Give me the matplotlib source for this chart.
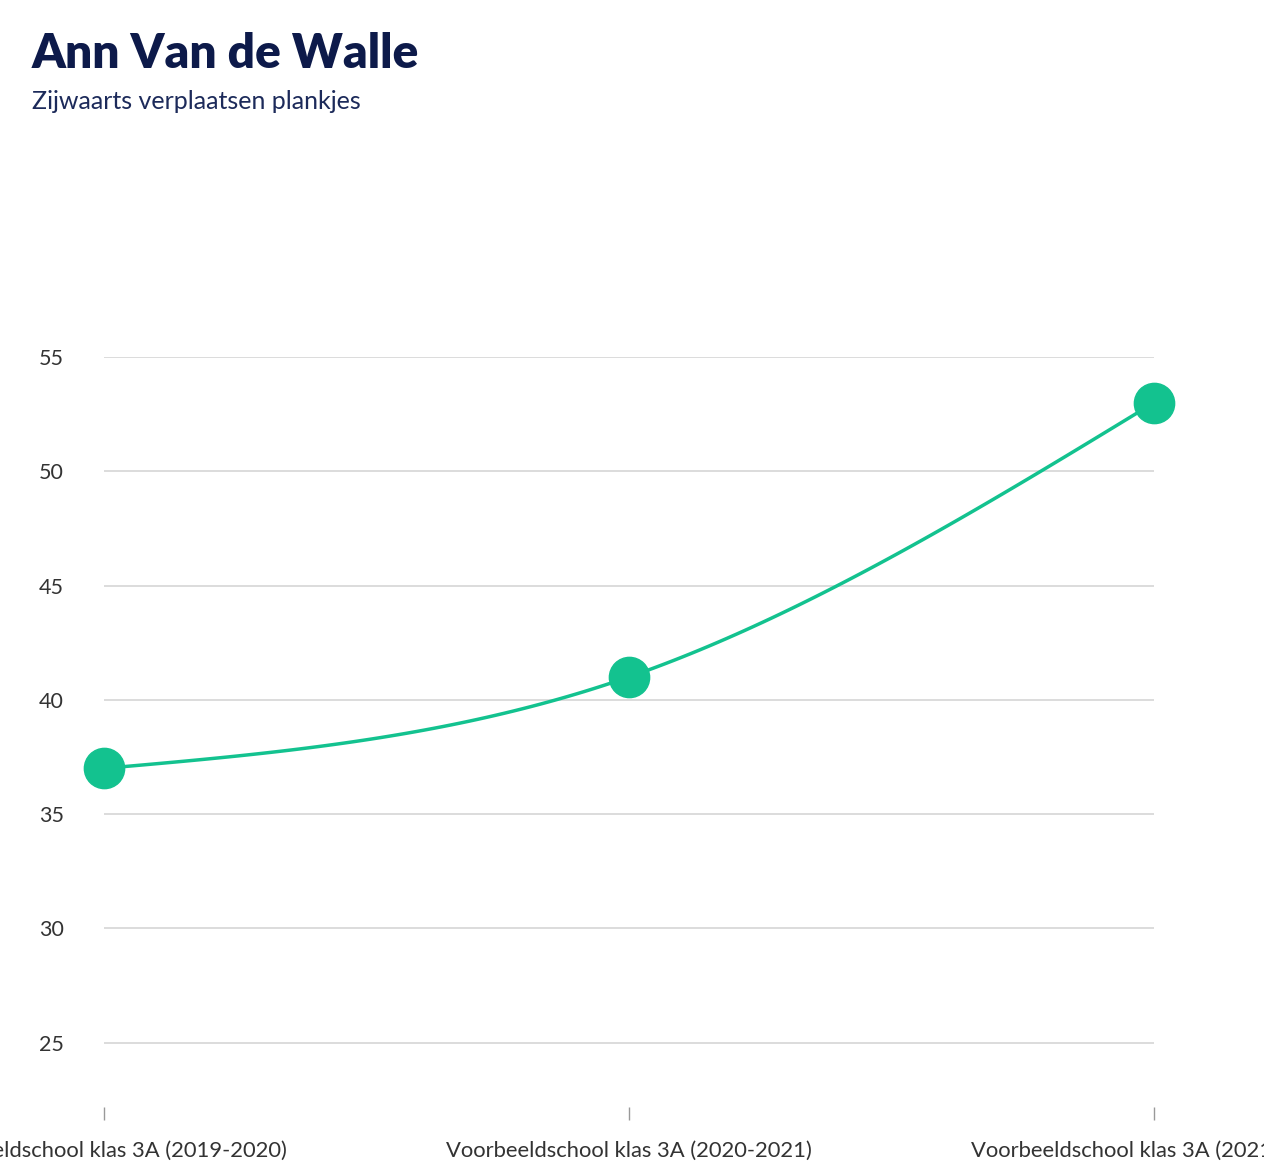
import matplotlib
matplotlib.use("Agg")
import matplotlib.pyplot as plt
import numpy as np

categories = ["Voorbeeldschool klas 3A (2019-2020)",
              "Voorbeeldschool klas 3A (2020-2021)",
              "Voorbeeldschool klas 3A (2021-2022)"]
values = [37, 41, 53]
yticks = [25, 30, 35, 40, 45, 50, 55]
title = "Ann Van de Walle"
subtitle = "Zijwaarts verplaatsen plankjes"

plt.rcParams['font.family'] = ['Lato', 'DejaVu Sans']

GREEN = "#13c28f"
NAVY = "#0d1a4a"

def monotone_x(xs, ys, n=60):
    xs = np.asarray(xs, float); ys = np.asarray(ys, float)
    h = np.diff(xs); s = np.diff(ys) / h
    t = np.zeros(len(xs))
    for i in range(1, len(xs) - 1):
        p = (s[i-1] * h[i] + s[i] * h[i-1]) / (h[i-1] + h[i])
        t[i] = (np.sign(s[i-1]) + np.sign(s[i])) * min(abs(s[i-1]), abs(s[i]), 0.5 * abs(p))
    t[0] = (3 * s[0] - t[1]) / 2
    t[-1] = (3 * s[-1] - t[-2]) / 2
    X, Y = [], []
    for i in range(len(xs) - 1):
        u = np.linspace(0, 1, n)
        h00 = 2*u**3 - 3*u**2 + 1; h10 = u**3 - 2*u**2 + u
        h01 = -2*u**3 + 3*u**2; h11 = u**3 - u**2
        X.extend(xs[i] + u * h[i])
        Y.extend(h00*ys[i] + h10*h[i]*t[i] + h01*ys[i+1] + h11*h[i]*t[i+1])
    return np.array(X), np.array(Y)

fig = plt.figure(figsize=(12.64, 11.76), dpi=100)
ax = fig.add_axes([104/1264, 1 - 1099.7/1176, 1050/1264, (1099.7 - 357)/1176])

x = np.arange(len(categories))
cx, cy = monotone_x(x, values)
ax.plot(cx, cy, color=GREEN, lw=2.5, clip_on=False, zorder=3)
ax.plot(x, values, 'o', color=GREEN, ms=29, clip_on=False, zorder=4)

ax.set_xlim(0, 2)
ax.set_ylim(22.5, 55)
ax.set_yticks(yticks)
ax.set_xticks(x)
ax.set_xticklabels(categories)
ax.grid(axis='y', color='#d9d9d9', lw=1.3)
ax.set_axisbelow(True)
for sp in ax.spines.values():
    sp.set_visible(False)
ax.spines['bottom'].set_position(('outward', 5))
ax.tick_params(axis='y', length=0, pad=29, labelsize=15.5, labelcolor='#333333')
ax.tick_params(axis='x', length=9, width=1, color='#999999', pad=15.5, labelsize=15.8, labelcolor='#333333')

fig.text(32/1264, 1 - 68/1176, title, fontsize=34.5, fontweight='heavy', color=NAVY, ha='left', va='baseline')
fig.text(32/1264, 1 - 109/1176, subtitle, fontsize=18, fontweight='normal', color='#1c2a5a', ha='left', va='baseline')

fig.savefig("out.png", dpi=100)
